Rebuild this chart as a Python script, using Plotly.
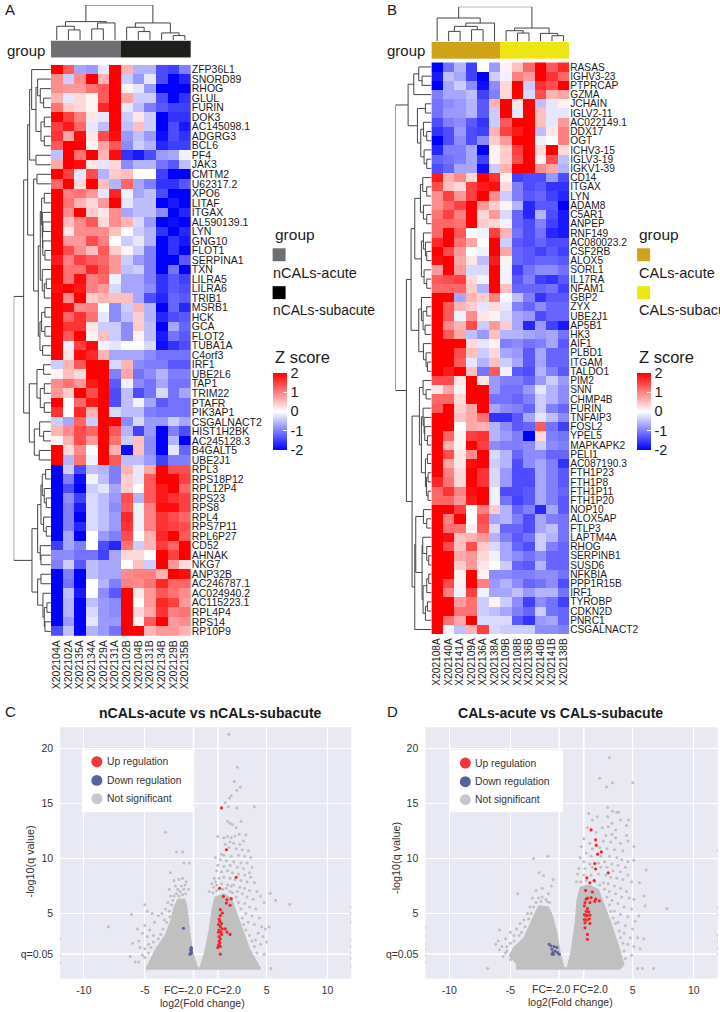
import plotly.graph_objects as go

W, H = 720, 1012
FONT = "Liberation Sans"

samples_a = ["X202104A","X202102A","X202135A","X202134A","X202129A","X202131A","X202102B","X202104B","X202131B","X202134B","X202129B","X202135B"]
samples_b = ["X202108A","X202140A","X202141A","X202109A","X202136A","X202138A","X202109B","X202108B","X202136B","X202140B","X202141B","X202138B"]
groups = [0]*6 + [1]*6

genes_a = ["ZFP36L1","SNORD89","RHOG","GLUL","FURIN","DOK3","AC145098.1","ADGRG3","BCL6","PF4","JAK3","CMTM2","U62317.2","XPO6","LITAF","ITGAX","AL590139.1","LYN","GNG10","FLOT1","SERPINA1","TXN","LILRA5","LILRA6","TRIB1","MSRB1","HCK","GCA","FLOT2","TUBA1A","C4orf3","IRF1","UBE2L6","TAP1","TRIM22","PTAFR","PIK3AP1","CSGALNACT2","HIST1H2BK","AC245128.3","B4GALT5","UBE2J1","RPL3","RPS18P12","RPL12P4","RPS23","RPS8","RPL4","RPS7P11","RPL6P27","CD52","AHNAK","NKG7","ANP32B","AC246787.1","AC024940.2","AC115223.1","RPL4P4","RPS14","RP10P9"]
z_a = [
[2,1.3,-.7,-.8,-.2,2,.6,-.6,-.6,-1.4,-1.5,-1.0],
[.9,-.4,.9,2,.6,2,-.4,-.8,-.2,-1.4,-2,-1.7],
[.9,.8,.8,1.1,1.3,2,.1,-.2,-.8,-2,-2,-2],
[.6,-.2,.3,.1,1.3,2,.7,-.4,-.4,-1.4,-2,-1.6],
[1.1,.4,.3,.1,1.7,2,-.2,-.5,-1.0,-1.3,-1.5,-1.5],
[2,1.5,1,.2,-.2,2,-.4,.2,-.4,-2,-1.6,-1.6],
[1.5,1.8,1.2,-.2,-.5,2,-.5,.5,-.4,-2,-1.4,-1.8],
[1.6,.7,1.9,.2,1.4,1.9,-.8,-.5,-.8,-1.9,-1.4,-1.6],
[1.3,2,2,.1,.7,1.3,-.9,-.4,-.6,-1.7,-1.5,-1.5],
[-.5,2,1.1,2,.6,1.9,-1.6,-1.8,-1.4,-.8,-.7,-.1],
[.7,2,1.9,.2,-.2,.3,-.9,-.6,-.6,-1.1,-1.3,-.5],
[2,1.5,-.2,1.4,-.6,.4,.5,0,0,-1.5,-2,-2],
[1.2,2,.3,2,.5,-.6,1.2,-.7,-1,-1.6,-1.6,-1.3],
[2,1,1.1,.8,-.2,1.7,-.1,-.7,-.5,-1.4,-2,-2],
[2,1.1,.6,.3,.8,2,-.2,-.5,-.5,-2,-1.8,-2],
[2,.9,2,.4,.2,.9,-.7,-.5,-.5,-.9,-2,-1.7],
[2,.5,.9,1.3,.3,.9,.6,-.3,-.8,-2,-1.9,-2],
[2,.2,.9,.9,.9,.5,0,-.4,-.6,-1.6,-2,-1.7],
[2,.8,.8,1.4,1,0,-.4,-.2,-.6,-2,-1.6,-1.8],
[2,1.4,.9,.5,1.3,.4,.1,-.4,-1,-2,-1.6,-2],
[1.8,1,1.5,1.3,1.2,.8,-.4,-.8,-1,-2,-2,-1.3],
[2,1.1,1.1,1.7,1.3,.8,-.5,-.4,-1,-2,-1.1,-2],
[2,1.1,1.9,1,1.2,-.1,-.7,-.7,-1,-1.6,-1.3,-1.5],
[1.9,2,1.8,1,.8,-.3,-.7,-.7,-.9,-1.6,-1.3,-1.4],
[2,.9,2,.4,.6,.5,.5,-.7,-1.4,-1.7,-1.2,-1.3],
[2,1.9,.9,1,0,-.9,-.4,.6,-.6,-2,-1.2,-1.7],
[2,1.2,1.6,1.1,-.2,-.9,-.5,.4,-.6,-1.7,-1.4,-1.3],
[2,1.6,1.6,.2,-.4,-.4,-.9,.4,-.5,-2,-.7,-1.2],
[2,1.3,2,.1,.5,-.4,-.9,.1,-.5,-1.8,-1.1,-1.3],
[2,-.1,1.5,1.9,-.1,-.2,0,0,-.3,-1.9,-1.6,-1.4],
[2,.2,1.9,1.7,.6,-.7,-.7,-.7,-.9,-1.1,-1.1,-1.1],
[-.4,.6,1.3,2,2,-.3,.6,-.9,-1,-1,-1.3,-1.3],
[.1,.5,.3,2,2,-1,.7,-1.1,-.9,-.6,-1,-1],
[.9,1.1,.8,1.8,2,-1.3,-.1,-.9,-1.1,-.7,-1.1,-1.1],
[.8,.4,2,1.4,2,-1.4,-.5,-1.4,-1.1,-.3,-1.1,-.7],
[2,0,1.2,1.8,2,-1.4,-.5,-.1,-.7,-1.3,-1.1,-1.1],
[1.6,0,1.7,.6,2,-.3,-.5,-.5,-1,-1.1,-1.1,-1.1],
[-.4,-.7,1.2,-.4,2,2,-.9,-.3,-.8,-.8,-.4,-.7],
[.6,.9,1.4,1.2,2,1.3,-.6,-1.5,-.8,-2,-1,-1.4],
[.1,.6,1.4,.8,2,1.1,-.4,.5,-.9,-2,-.6,-2],
[2,.3,.9,0,2,.6,-1.9,.5,-.9,-2,-.2,-1.2],
[2,-.6,1.1,-.1,2,1.3,-.5,-.5,-.8,-1.5,-1,-1],
[-2,-.4,-1.4,-.5,-.6,-1,.6,-.2,.7,2,1.4,1.4],
[-2,-1,-1.9,-.1,-.5,-1,.4,-.2,1.3,2,2,1.5],
[-2,-1.4,-2,-.4,-.2,-.7,.4,0,1.3,1.8,2,1.2],
[-2,-.9,-1.5,-.3,-.5,-.8,1.4,-.6,1.3,1.8,1.6,1.5],
[-2,-1,-1.8,-.3,-.5,-.9,1.3,-.1,1,1.9,1.9,1.5],
[-2,-1,-2,-.3,-.5,-.8,1.7,-.1,1,1.6,1.4,1.2],
[-2,-1,-1.7,-.3,-.5,-.8,1.6,-.1,1,1.6,1.5,1.4],
[-2,-.7,-2,0,-.8,-1,1.4,0,.6,1.7,2,1.3],
[-1.5,-.7,-1,0,-1.4,-1.7,1.1,-.4,.6,1.5,1.2,2],
[-.9,-.9,-1.1,-1.1,-1.5,-.7,.3,.3,0,2,1.5,2],
[-1,-.4,-1.3,-.5,-.7,-.7,0,.5,-.4,2,.8,.3],
[-2,-1,-2,-.5,-.7,-.7,.9,1,1,.6,2,1.9],
[-2,-1.1,-2,0,-.6,-1,1,.9,1.1,1.7,1.2,1.2],
[-2,-.5,-1.8,0,-.9,-1.3,2,.2,.8,1.3,1.1,.9],
[-2,-.6,-2,-.5,-.8,-.9,2,0,.8,1.7,1.5,.8],
[-2,-.6,-2,-.3,-.8,-.9,2,.3,.7,1.6,1,1.1],
[-2,-.8,-2,-.2,-.8,-.8,2,.1,1.3,2,.8,.9],
[-1.4,-.5,-2,-.6,-.8,-1.1,2,2,.6,.8,.8,.6],
]

genes_b = ["RASAS","IGHV3-23","PTPRCAP","GZMA","JCHAIN","IGLV2-11","AC022149.1","DDX17","OGT","ICHV3-15","IGLV3-19","IGKV1-39","CD14","ITGAX","LYN","ADAM8","C5AR1","ANPEP","RNF149","AC080023.2","CSF2RB","ALOX5","SORL1","IL17RA","NFAM1","GBP2","ZYX","UBE2J1","AP5B1","HK3","AIF1","PLBD1","ITGAM","TALDO1","PIM2","SNN","CHMP4B","FURIN","TNFAIP3","FOSL2","YPEL5","MAPKAPK2","PELI1","AC087190.3","FTH1P23","FTH1P8","FTH1P11","FTH1P20","NOP10","ALOX5AP","FTLP3","LAPTM4A","RHOG","SERPINB1","SUSD6","NFKBIA","PPP1R15B","IRF1","TYROBP","CDKN2D","PNRC1","CSGALNACT2"]
z_b = [
[-2,-1.1,-.6,-1.5,0,-.8,.1,.5,1.2,2,1.3,1.7],
[-1.8,-.5,-.7,-1.5,-2,-.4,-.1,1,.8,2,1.6,1.2],
[-2,-.7,-.4,-.9,-1.9,-.9,.3,2,-.4,1.6,1.4,2],
[-1,-.7,-.7,-.5,-1.5,-1,.3,2,-.3,1.4,.6,.7],
[-1.1,-.9,-.8,-.6,-1.3,.6,2,.2,2,-.5,-.2,.1],
[-1.1,-.8,-.8,-.6,-1.3,-.4,2,-.2,2,.5,-.2,-.2],
[-1.4,-1,-.9,-1.3,-1.6,-.4,1.3,2,2,.5,-.2,.8],
[-1.6,-1.4,-.8,-1.4,-1.5,.6,1.5,1.8,2,-.5,.2,1],
[-2,-1.4,-.9,-1.4,-.9,.4,.8,2,2,-.1,0,1],
[-1.7,-1,-1,-.7,-2,.1,.4,1.5,2,.3,2,.3],
[-1.2,-1.1,-1,-.7,-1.5,.1,.4,1.4,2,.1,1.4,-.5],
[-1.4,-1.2,-.7,-.7,-1.9,-.4,.6,2,2,.9,.7,-.6],
[1.8,.6,.9,.3,2,1.6,.1,-1.5,-1.4,-1.4,-.8,-1.4],
[1.4,.5,.3,1.5,1.8,1.9,.3,-1,-1.4,-1.3,-1.6,-1.6],
[.9,1.5,.8,1.5,2,.9,-.4,-1,-1.3,-1.2,-1.5,-1.7],
[.9,1.2,1.5,2,.8,.4,.1,-.6,-1.7,-1.3,-1.3,-2],
[1.1,1.5,1,2,.3,.8,-.3,-1.2,-1.7,-.6,-1.4,-1.8],
[1.2,1.2,1.1,2,.4,.3,-.1,-1.2,-1.4,-1,-1.5,-1.8],
[1.2,2,1.3,0,-.1,1.5,.6,-1.1,-1.4,-1.1,-1.7,-1.8],
[1.7,2,1.1,.7,0,2,-.4,-1.3,-1.4,-1.2,-1.4,-1.4],
[2,1.4,.8,0,-.1,2,.7,-1.2,-1.3,-1.5,-1.3,-1.5],
[1.9,2,.7,.2,-.5,1.8,.1,-1.2,-1.3,-1.2,-1.2,-1.3],
[.8,2,.8,-.3,-.3,2,-.1,-1.5,-1.1,-.9,-.9,-1.1],
[1.3,1.4,1.5,.3,-.1,2,-.1,-1.3,-1,-1.5,-1.6,-1.3],
[1.2,1.2,1.2,.4,-.6,2,.5,-1.2,-1.2,-1.2,-1.1,-1.5],
[2,2,-.7,.6,.4,1,0,-.5,-1,-1.6,-1.3,-1.3],
[2,1.3,.6,.4,-.2,.3,-.2,-1,-1.2,-.9,-1.2,-1.2],
[2,1.3,-.1,.9,.2,.1,-.3,-.7,-.8,-1.4,-1.2,-1.2],
[2,.9,.6,1.4,-.4,.8,.4,-.7,-1.7,-.8,-1.5,-1.8],
[2,1.3,.7,-.5,-.8,.5,-.6,-.6,-.7,-.8,-.7,-1.1],
[2,2,2,.3,-.2,.1,-1,-.9,-1.1,-1,-.7,-1.3],
[2,2,1.4,.5,-.4,.3,-.7,-.8,-1.3,-.7,-1.2,-1.2],
[2,2,1.3,-.2,-.6,.5,-.4,-.7,-1.3,-.7,-1.2,-1.2],
[2,1.8,2,.5,-1.1,1.3,-.1,-1.3,-1.4,-.6,-1,-1.3],
[1.4,1.4,.2,2,.2,-.8,-1,-1,-1.2,-.8,-.4,-.8],
[.2,.7,.1,2,2,-.8,-1.1,-1.1,-.8,-.2,-.6,-.9],
[1.2,1.2,.3,2,2,-1.1,-1.1,-1.2,-1,-.4,-.6,-.9],
[1.3,2,.4,.7,2,-.7,-.9,-1,-1.2,-.4,-1,-1.2],
[2,2,.5,.7,1.1,-1.6,-1.6,-1.3,-.7,-.2,-.5,-.9],
[2,2,0,.7,.6,-.6,-.9,-1.3,-1.2,1.3,-1.1,-1.5],
[2,1.2,.1,1.5,1.6,-.6,-.8,-1,-2,.3,-1,-1.1],
[2,.6,.1,2,1.5,-.9,-1,-1,-.9,-.4,-.9,-1],
[2,1.4,.2,.9,2,-.3,-.6,-1.2,-.9,-.9,-1.2,-1.2],
[2,.7,.2,1.9,2,-.4,-.6,-1.4,-.9,-.7,-1,-1.6],
[2,1,.3,2,1.6,-.3,-.8,-1.4,-1.4,-.7,-1,-1.3],
[1.7,1.1,.3,2,1.6,-.3,-.8,-1.4,-1.4,-.7,-1,-1.3],
[1.2,1.6,1,1.9,2,-.1,-1.4,-1.4,-1.3,-.7,-1,-1.2],
[1.2,1.2,.8,1.8,2,-.1,-1.1,-1.5,-1.3,-.7,-1,-1.3],
[2,2,1.5,0,1,.4,-.6,-1.2,-1,-1.7,-.7,-1.3],
[2,1,2,0,1.4,-.7,-.6,-1,-1.4,-.7,-1,-1.1],
[2,1.1,1.1,.1,1.3,-.3,-1.2,-1.2,-1.4,-.7,-.5,-1.1],
[2,1.9,.5,.6,.8,-.6,-1,-1.3,-1.1,-.4,-.6,-1.1],
[2,1.4,.5,1.4,.4,-.3,-.7,-1.2,-1.4,-.4,-1,-1.2],
[2,2,.7,.8,.3,-.1,-.7,-.9,-1.1,-.9,-1.2,-1.2],
[2,2,.4,.8,.2,0,-.4,-1.2,-1.3,-.6,-1.2,-1.2],
[2,2,.1,2,.1,-.9,-.9,-1,-1,-.9,-.9,-1.1],
[2,1.4,.1,2,1,-.8,-.6,-.9,-1.2,-1.1,-.9,-1.4],
[2,1,-.1,1.5,-.1,-.7,-.7,-.5,-.8,-.6,-.6,-1.1],
[2,2,.8,1.1,-.4,.1,-.4,-.9,-1.5,-.9,-1.1,-1.5],
[2,2,1.1,1.1,-.4,-.5,-.7,-1,-1.2,-.4,-1.1,-1.2],
[2,1.1,.7,2,-.3,-.3,-.3,-1.3,-1.6,-.8,-.7,-1.2],
[2,-.1,-.5,.6,1.5,-.3,-.4,-.4,-.4,-.9,-.9,-1],
]

# dendrograms: (height, left, right), leaves are row/column indices
def N(h, a, b):
    return (h, a, b)

tree_col_a = N(105, N(55, N(41, 0, N(30, 1, 2)), N(51, N(33, 3, 4), 5)), N(51, N(38, 6, N(25, 7, 8)), N(21, 9, N(13, 10, 11))))
tree_col_b = N(104, N(70, 0, N(55, N(45, N(30, 1, 2), N(35, 3, 4)), 5)), N(40, N(32, 6, N(25, 7, 8)), N(24, 9, N(17, 10, 11))))

_a_top = N(64, N(58, 0, N(45, N(40, 1, N(32, 2, N(22, 3, 4))), N(30, N(20, 5, 6), N(20, 7, 8)))), N(45, 9, 10))
_a_mid = N(38, N(32, N(28, N(20, 13, 14), N(26, 15, N(25, N(24, 16, 17), N(24.5, 18, N(18, 19, 20))))), N(26, 21, N(20, N(14, 22, 23), 24))),
           N(33, N(28, N(18, 25, 26), N(18, 27, 28)), N(25, 29, 30)))
_a_top2 = N(70, _a_top, N(52, N(42, 11, 12), _a_mid))
_a_low = N(65, N(42, N(22, 31, 32), N(32, N(20, 33, 34), N(20, 35, 36))), N(50, N(34, 37, N(22, 38, 39)), N(35, 40, 41)))
_a_bot = N(57, N(40, N(30, N(26, N(16, 42, 43), N(20, 44, N(14, 45, 46))), N(22, 47, N(14, 48, 49))), N(32, 50, N(30, 51, 52))),
           N(40, N(30, 53, 54), N(24, 55, N(20, N(12, 56, 57), N(18, 58, 59)))))
tree_row_a = N(112, N(82, _a_top2, _a_low), _a_bot)

_b_top = N(70, N(53, N(38, 0, N(28, 1, 2)), 3), N(42, N(18, 4, 5), N(32, N(24, 6, N(14, 7, 8)), N(22, 9, N(14, 10, 11)))))
_b_m1 = N(50, N(33, N(26, 12, N(14, 13, 14)), N(24, 15, N(14, 16, 17))), N(30, N(24, 18, N(18, 19, N(14, 20, 21))), N(22, 22, N(14, 23, 24))))
_b_m2 = N(38, N(30, 25, N(25, N(14, 26, 27), N(19, 28, 29))), N(24, 30, N(16, 31, N(12, 32, 33))))
_b_m = N(61, _b_m1, _b_m2)
_b_n1 = N(36, N(25, 34, N(16, 35, 36)), N(30, N(25, 37, N(22, 38, N(20, 39, N(12, 40, 41)))), N(18, N(12, 42, 43), N(15, N(10, 44, 45), N(10, 46, 47)))))
_b_n2 = N(47, N(24, 48, N(14, 49, 50)), N(28, N(26, 51, N(14, 52, N(8, 53, 54))), N(25, N(14, N(8, 55, 56), 57), N(18, N(12, 58, 59), 60))))
_b_n = N(58, _b_n1, N(50, _b_n2, 61))
tree_row_b = N(108, _b_top, N(75, _b_m, _b_n))

# volcano data (log2 fold change, -log10 q)
c_lobe_left = [(-0.62,0),(-1.07,1.45),(-1.34,3.6),(-1.55,5.6),(-1.7,6.3),(-2.3,6.3),(-2.6,5.6),(-2.85,4.4),(-3.3,3.1),(-4.1,1.8),(-4.55,0.8),(-4.9,0)]
c_lobe_right = [(-0.5,0),(-0.1,1.45),(0.3,3.6),(0.55,5.6),(0.75,6.5),(1.5,6.8),(2.1,6.4),(2.5,5.2),(2.95,3.7),(3.6,1.8),(4.3,0.4),(4.5,0)]
c_base = [-4.9, 4.5]
c_gray = [(1.9,21.3),(2.6,18.3),(2.35,17),(2.85,16.5),(2.55,16.2),(2.1,15.7),(1.95,15.5),(1.6,15.1),(4,14.7),(2.55,14.6),(1.85,14.7),(1.8,13.4),(2.2,13.1),(2.9,13.4),(2.0,13.2),(2.5,12.8),(3.3,12.15),(2.75,12.2),(1.8,12),(2.1,11.9),(2.4,12.05),(1.5,11.9),(1.0,12),(2,11.5),(2.3,11.4),(2.8,11.3),(3.1,11.6),(1.6,11.3),(1.9,11),(2.5,10.9),(3.0,10.8),(3.5,10.7),(1.3,10.4),(0.8,10.1),(1.5,10.3),(2.1,10.2),(2.7,10.3),(3.2,10.2),(3.7,10.1),(1.2,9.9),(1.7,9.8),(2.3,9.7),(2.9,9.6),(3.4,9.6),(1.0,9.4),(1.5,9.3),(2.0,9.4),(2.6,9.2),(3.1,9.1),(3.8,9.2),(3.6,8.7),(0.9,8.9),(1.3,8.8),(1.8,8.9),(2.2,8.7),(2.7,8.6),(3.2,8.5),(3.7,8.3),(0.7,8.2),(1.1,8.2),(1.5,8.3),(2,8.2),(2.4,8.1),(2.9,8),(3.4,7.9),(4,7.8),(0.5,7.7),(0.9,7.6),(2.3,7.6),(2.8,7.4),(3.2,7.3),(3.6,7.1),(4.2,7),(0.3,7),(2.6,7),(3,6.8),(3.4,6.5),(3.9,6.3),(4.5,6.6),(4.8,6),(5.3,6.85),(5.75,6.2),(6.9,5.85),(3.2,5.9),(3.6,5.6),(4.1,5.4),(3.3,5),(3.8,4.8),(4.4,4.6),(3.5,4.2),(4,4),(4.6,3.8),(4.9,3.6),(5.2,3.8),(4.3,3.2),(4.7,2.9),(4.1,2.6),(4.5,2.2),(5,2.4),(5.35,0),(4.8,1.3),(12,5.6),(12,5),(12,4.2),(12,2.6),(12,2),(12,1.4),(12,0.9),(12,0.2),
(0.6,6.9),(0.9,7.1),(1.1,7.3),(1.4,7.2),(1.7,7.3),(2,7),(2.2,6.9),(2.5,6.5),(2.7,6),(2.9,5.4),(3,4.6),(3.1,4),(3.3,3.5),(3.6,3),(3.8,2.5),(4,2),(4.2,1.4),(0.8,7.9),(1.3,7.7),(1.8,7.6),(0.65,7.4),(2.1,7.5),
(-3.3,12.4),(-2.4,10.6),(-1.9,10.6),(-1.8,9.6),(-1.35,9.6),(-2.9,8.7),(-2.6,8),(-2.2,8.1),(-1.9,8.2),(-1.6,7.9),(-2.5,7.5),(-3,7.2),(-1.4,7.2),(-2.9,6.6),(-3.1,6),(-3.3,5.4),(-3.6,5),(-3.9,4.8),(-3.4,4.4),(-4.2,4.2),(-4.8,5.2),(-4.4,5),(-5,5.8),(-6.1,4.9),(-8,3.8),(-5.6,3.6),(-5,3.9),(-4.6,3.5),(-5.2,3.2),(-4.8,2.9),(-4.3,3),(-5.5,2.5),(-6.0,2.3),(-5.4,1.9),(-5,1.8),(-4.7,2.2),(-6.2,1.1),(-5.8,0.6),(-5.5,0.6),(-5.2,1.2),(-12,2.7),(-12,1.2),(-12,0.5),
(-1.7,7.6),(-1.8,7.2),(-2,7.5),(-2.1,7),(-2.3,7.2),(-2.4,6.8),(-2.6,6.6),(-1.9,6.7),(-1.65,6.8),(-2.2,6.6),(-2.7,6.2),(-2.8,5.8),(-3,5.2),(-2.95,4.7),(-3.2,4.2),(-3.5,3.6),(-3.7,3.1),(-3.9,2.7),(-4.3,2.4),(-4.5,1.9),(-4.7,1.4),(-5,1)]
c_up = [(1.3,14.6),(1.7,10.8),(2.5,8.3),(1.15,7.3),(1.45,6.55),(1.75,6.25),(2.1,6.35),(1.7,5.95),(2,5.75),(1.2,5.35),(1.37,5.05),(1.2,4.8),(1.1,4.5),(1.15,4.3),(1.3,4.1),(1.05,4),(1.2,3.8),(1.35,3.6),(1.1,3.5),(1.6,3.6),(1.25,3.3),(1.75,3.3),(1.05,3.3),(1.3,3.1),(2.0,3.1),(1.1,2.9),(1.2,2.7),(1.1,2.5),(1.15,2.3),(1.05,2.1),(1.2,2),(1.0,1.9),(1.2,1.3)]
c_down = [(-1.83,3.65),(-1.2,1.9),(-1.15,1.8),(-1.25,1.7),(-1.2,1.6),(-1.15,1.5),(-1.25,1.4),(-1.2,1.35),(-1.3,1.3)]

d_lobe_left = [(-0.6,0),(-0.93,1.45),(-1.2,3.3),(-1.6,4.9),(-1.9,5.6),(-2.7,5.7),(-3.0,5),(-3.4,4.0),(-3.9,2.8),(-4.75,1.9),(-5.1,1.15),(-4.5,0.4),(-4.5,0)]
d_lobe_right = [(-0.38,0),(-0.05,1.45),(0.3,4.2),(0.45,6.3),(0.7,7.4),(1.4,7.6),(2.2,7.2),(2.6,6),(3.2,4.2),(3.85,2.05),(4.3,0.3),(4,0)]
d_base = [-4.5, 4.0]
d_gray = [(3.1,19.2),(2.3,17.3),(3.35,16.9),(2.85,16.5),(5,16.9),(2.95,14.65),(3.7,14.2),(1.4,14.1),(2.1,13.8),(3.35,14.3),(3.85,14.2),(2.95,13.8),(3.3,13.2),(4,13.5),(4.65,13.5),(1.7,13.5),(4.5,13),(3,12.9),(2.5,12.8),(3.6,12.6),(1.3,12.8),(2,12.4),(4.5,12.1),(3.3,12.2),(2.8,12.1),(3.6,11.9),(1,11.8),(1.5,11.4),(2.6,11.6),(3.2,11.5),(4.0,11.4),(4.6,11.6),(5.1,11.1),(0.8,11.1),(1.7,10.9),(2.3,11),(2.9,10.9),(3.5,10.8),(4.2,10.7),(1.2,10.5),(1.6,10.2),(2.4,10.2),(3.1,10.2),(3.7,10.1),(0.7,10.1),(4.1,9.9),(4.6,9.7),(1,9.7),(1.5,9.5),(2.2,9.6),(2.7,9.7),(3.3,9.5),(3.8,9.4),(4.4,9.2),(0.6,9.1),(1.1,9.1),(1.7,9.2),(2.4,9.2),(2.9,9.2),(3.4,8.9),(4,8.8),(4.6,8.5),(0.5,8.6),(1,8.5),(1.6,8.5),(2.2,8.6),(2.8,8.5),(3.2,8.3),(3.7,8.2),(4.2,8.1),(4.9,7.9),(5.55,7.8),(0.4,7.9),(2.6,7.8),(3,7.7),(3.5,7.5),(4,7.3),(4.5,7),(3.1,7),(3.6,6.8),(4.1,6.5),(4.7,6.4),(5.1,6.3),(5.9,6.6),(3.3,6.2),(3.8,5.9),(4.3,5.6),(4.9,5.4),(6,5.7),(3.5,5.2),(4,4.9),(4.6,4.7),(5.5,4.8),(5.2,4.3),(3.8,4.2),(4.4,3.9),(5,3.6),(4.3,3.2),(4.8,2.8),(5.4,2.8),(5.9,2.7),(4.6,2.2),(5.1,2),(5.6,1.8),(4.9,1.2),(5.4,0),(5.8,0),(6.7,0),(7.8,5.45),(6.1,8.95),(5.1,9.85),(12,10.7),(12,5.6),(12,4.9),(12,3),(12,2.4),(12,1.8),(12,1.3),
(0.75,7.9),(1.2,8),(1.9,7.9),(2.3,7.6),(2.7,7.2),(2.9,6.5),(3.1,5.8),(3.2,5.2),(3.4,4.6),(3.6,4.1),(3.9,3.4),(4,2.8),(4.2,2.3),(4.3,1.6),(4.4,0.9),
(-3.1,10),(-1.95,10.2),(-2.65,8.7),(-2.3,8.45),(-1.65,7.5),(-1.5,8.1),(-4.4,6.8),(-2.9,7.1),(-2.4,7.3),(-1.9,6.8),(-3.2,6.4),(-3.4,5.6),(-3.6,5),(-3.9,4.4),(-4.2,4.1),(-4.5,3.6),(-5.9,3.5),(-5.0,3.3),(-4.7,3),(-5.4,2.7),(-6,2.5),(-6.2,2.2),(-5.7,2),(-5.9,1.7),(-5.3,1.6),(-5.6,1.1),(-6.85,0),(-12,3.7),(-12,3),(-12,2.2),(-12,1.7),(-12,1.2),(-12,0.6),(-5,0.8),
(-2.1,6.3),(-2.4,6.5),(-2.7,6.4),(-2,6.1),(-1.8,6),(-2.9,6),(-2.5,6.1),(-3.1,5.6),(-3.3,5),(-3.5,4.5),(-3.8,3.8),(-4.1,3.3),(-4.3,3),(-4.7,2.5),(-5,2.3),(-5.3,2),(-5.4,1.4)]
d_up = [(1.6,12.6),(1.97,11.7),(2.02,11.2),(2.13,10.4),(2.43,10.6),(1.9,9.55),(1.97,9.05),(3,8.7),(1.25,8.25),(1.85,8),(1.5,7.8),(1.15,7.1),(1.7,6.95),(1.3,6.4),(1.6,6.45),(1.2,6.3),(1.97,6.3),(2.27,6.15),(1.9,6.1),(1.1,6),(1.5,6),(1.05,5.7),(1.3,5.45),(1.2,5.2),(1.4,5.15),(1.05,4.9),(1.15,4.8),(1.25,4.8),(1.5,4.85),(1.05,4.45),(1.25,4.4),(1.45,4.5),(1.1,4.15),(1.5,4.1),(1.1,3.7),(1.3,3.1),(1.3,2.65)]
d_down = [(-1.83,2.2),(-1.67,2.05),(-1.42,2),(-1.2,1.9),(-1.6,1.75),(-1.53,1.45),(-1.34,1.6),(-1.15,1.45),(-1.47,1.3),(-1,1.3),(-1.6,1.3)]

cb_ticks = [-2, -1, 0, 1, 2]
cb_labels = ["-2", "-1", "0", "1", "2"]
COLORSCALE = [[0, "#0000FF"], [0.5, "#FFFFFF"], [1, "#FF0000"]]
GREY, RED, BLUE = "#C0C0C0", "#F0262C", "#55619F"
LAVENDER = "#E9E9F3"
TXT = "#1A1A1A"


def xp(p):
    return p / W


def yp(p):
    return 1 - p / H


fig = go.Figure()
layout_axes = {}
shapes = []
annos = []
_n = [0]


def new_axes(x0, x1, y0, y1, xcfg, ycfg):
    _n[0] += 1
    k = _n[0]
    sfx = "" if k == 1 else str(k)
    base = dict(showgrid=False, zeroline=False, showticklabels=False, ticks="", showline=False, fixedrange=True)
    xa = dict(base, domain=[xp(x0), xp(x1)], anchor="y" + sfx)
    xa.update(xcfg)
    ya = dict(base, domain=[yp(y1), yp(y0)], anchor="x" + sfx)
    ya.update(ycfg)
    layout_axes["xaxis" + sfx] = xa
    layout_axes["yaxis" + sfx] = ya
    return "x" + sfx, "y" + sfx


def tree_segments(t, px, py):
    if not isinstance(t, tuple):
        return float(t), 0.0
    h, a, b = t
    pa, ha = tree_segments(a, px, py)
    pb, hb = tree_segments(b, px, py)
    px += [pa, pa, pb, pb, None]
    py += [ha, h, h, hb, None]
    return (pa + pb) / 2, h


def text(x, y, s, size=15, anchor="left", bold=False, angle=0, color=TXT):
    t = f"<b>{s}</b>" if bold else s
    annos.append(dict(text=t, x=xp(x), y=yp(y), xref="paper", yref="paper", xanchor=anchor, yanchor="middle",
                      showarrow=False, textangle=angle, font=dict(family=FONT, size=size, color=color)))


def heat_panel(samples, genes, z, col_tree, row_tree, hx0, hx1, hy0, hy1, bar_y, top_y, top_max, left_x, left_max,
               colors, cbx, tick_size):
    n, m = len(samples), len(genes)
    xa, ya = new_axes(hx0, hx1, hy0, hy1,
                      dict(type="category", categoryarray=samples, categoryorder="array", showticklabels=True, side="bottom",
                           tickangle=-90, tickfont=dict(family=FONT, size=tick_size, color=TXT), ticks="", ticklen=0,
                           ticklabelstandoff=1, tickmode="array", tickvals=samples, ticktext=samples),
                      dict(type="category", categoryarray=genes, categoryorder="array", autorange="reversed",
                           showticklabels=True, side="right", tickfont=dict(family=FONT, size=tick_size, color=TXT),
                           ticks="", ticklen=0, tickmode="array", tickvals=genes, ticktext=genes))
    fig.add_trace(go.Heatmap(x=samples, y=genes, z=z, zmin=-2, zmax=2, colorscale=COLORSCALE, xaxis=xa, yaxis=ya,
                             colorbar=dict(x=xp(cbx), xanchor="left", xref="paper", y=yp(372), yanchor="top", yref="paper",
                                           thickness=14, thicknessmode="pixels", len=77, lenmode="pixels", ypad=0, xpad=0,
                                           outlinewidth=0, tickmode="array", tickvals=cb_ticks, ticktext=cb_labels, ticks="inside",
                                           ticklen=4, tickcolor="white", tickfont=dict(family=FONT, size=14.5, color=TXT))))
    # group bar
    xb, yb = new_axes(hx0, hx1, bar_y[0], bar_y[1], dict(range=[-0.5, n - 0.5]), dict(range=[0, 1]))
    fig.add_trace(go.Heatmap(z=[groups], x=list(range(n)), y=[0.5], zmin=0, zmax=1, showscale=False,
                             colorscale=[[0, colors[0]], [0.5, colors[0]], [0.5, colors[1]], [1, colors[1]]], xaxis=xb, yaxis=yb))
    # column tree
    xt, yt = new_axes(hx0, hx1, top_y[0], top_y[1], dict(range=[-0.5, n - 0.5]), dict(range=[0, top_max]))
    px, py = [], []
    tree_segments(col_tree, px, py)
    fig.add_trace(go.Scatter(x=px, y=py, mode="lines", line=dict(color="#444444", width=1), xaxis=xt, yaxis=yt, hoverinfo="skip"))
    # row tree
    xr, yr = new_axes(left_x, hx0, hy0, hy1, dict(range=[left_max, 0]), dict(range=[m - 0.5, -0.5]))
    px, py = [], []
    tree_segments(row_tree, px, py)
    fig.add_trace(go.Scatter(x=py, y=px, mode="lines", line=dict(color="#444444", width=1), xaxis=xr, yaxis=yr, hoverinfo="skip"))


def volcano(x0, x1, lobes, base, gray, up, down, legend_box, leg_mx, leg_tx, leg_y, title, tcx, xtc, xty, ytx, yty, fc_pos, fc_y):
    xa, ya = new_axes(x0, x1, 727.3, 979.3,
                      dict(range=[-11.95, 11.95], showgrid=True, gridcolor="white", gridwidth=0.8, showticklabels=True,
                           tickmode="array", tickvals=[-10, -5, 5, 10],
                           ticktext=["-10", "-5", "5", "10"], ticks="outside", ticklen=2, tickangle=0,
                           tickcolor="rgba(0,0,0,0)", tickfont=dict(family=FONT, size=10.5, color="#333333")),
                      dict(range=[-0.9, 21.95], showgrid=True, gridcolor="white", gridwidth=0.8, showticklabels=True,
                           tickmode="array", tickvals=[1.3, 5, 10, 15, 20], ticktext=["q=0.05", "5", "10", "15", "20"],
                           ticks="outside", ticklen=4, tickcolor="rgba(0,0,0,0)",
                           tickfont=dict(family=FONT, size=10.5, color="#333333")))
    shapes.append(dict(type="rect", xref="paper", yref="paper", x0=xp(x0), x1=xp(x1), y0=yp(979.3), y1=yp(727.3),
                       fillcolor=LAVENDER, line=dict(width=0), layer="below"))
    for v in (-1, 1):
        shapes.append(dict(type="line", xref=xa, yref=ya + " domain", x0=v, x1=v, y0=0, y1=1, line=dict(color="white", width=1.6), layer="below"))
    shapes.append(dict(type="line", xref=xa + " domain", yref=ya, x0=0, x1=1, y0=1.3, y1=1.3, line=dict(color="white", width=1.6), layer="below"))
    for lobe in lobes:
        fig.add_trace(go.Scatter(x=[p[0] for p in lobe], y=[p[1] for p in lobe], mode="lines", fill="toself", fillcolor=GREY,
                                 line=dict(color=GREY, width=1), xaxis=xa, yaxis=ya, hoverinfo="skip"))
    fig.add_trace(go.Scatter(x=[p[0] for p in gray], y=[p[1] for p in gray], mode="markers", marker=dict(color=GREY, size=3), xaxis=xa, yaxis=ya, name="Not significant"))
    fig.add_trace(go.Scatter(x=base, y=[0, 0], mode="lines", line=dict(color=GREY, width=2.6), xaxis=xa, yaxis=ya, hoverinfo="skip"))
    fig.add_trace(go.Scatter(x=[p[0] for p in down], y=[p[1] for p in down], mode="markers", marker=dict(color=BLUE, size=3), xaxis=xa, yaxis=ya, name="Down regulation"))
    fig.add_trace(go.Scatter(x=[p[0] for p in up], y=[p[1] for p in up], mode="markers", marker=dict(color=RED, size=3.2), xaxis=xa, yaxis=ya, name="Up regulation"))
    # legend box
    bx0, bx1, by0, by1 = legend_box
    shapes.append(dict(type="rect", xref="paper", yref="paper", x0=xp(bx0), x1=xp(bx1), y0=yp(by1), y1=yp(by0), fillcolor="white", line=dict(width=0), layer="above"))
    for yy, c, s in zip(leg_y, ["#F5333A", "#56629E", "#C8C8C8"], ["Up regulation", "Down regulation", "Not significant"]):
        shapes.append(dict(type="circle", xref="paper", yref="paper", x0=xp(leg_mx - 5.5), x1=xp(leg_mx + 5.5), y0=yp(yy + 5.5), y1=yp(yy - 5.5), fillcolor=c, line=dict(width=0), layer="above"))
        text(leg_tx, yy, s, size=10.3, color="#333333")
    text(tcx, 713, title, size=14.1, anchor="center", bold=True)
    text(fc_pos[0], fc_y, "FC=-2.0", size=10.5, anchor="center", color="#333333")
    text(fc_pos[1], fc_y, "FC=2.0", size=10.5, anchor="center", color="#333333")
    text(xtc, xty, "log2(Fold change)", size=10.5, anchor="center", color="#333333")
    text(ytx, yty, "-log10(q value)", size=10.8, anchor="center", angle=-90, color="#333333")


heat_panel(samples_a, genes_a, z_a, tree_col_a, tree_row_a, 50, 190, 63, 636, (38.7, 56), (3, 38), 105, 12.7, 112,
           ("#6F6F73", "#1E1E1A"), 272, 10.5)
heat_panel(samples_b, genes_b, z_b, tree_col_b, tree_row_b, 431, 569, 60.5, 634, (40, 57), (4.7, 39.5), 104, 395, 108,
           ("#CFA317", "#EDE613"), 637, 10.2)

volcano(59.3, 350.7, [c_lobe_left, c_lobe_right], c_base, c_gray, c_up, c_down, (81, 193, 750, 812.7), 96, 103.7,
        (762, 780.7, 799), "nCALs-acute vs nCALs-subacute", 209.5, 202, 1003.5, 29, 862, (182.3, 223.3), 991)
volcano(425, 717.7, [d_lobe_left, d_lobe_right], d_base, d_gray, d_up, d_down, (449.3, 562.7, 750, 812.7), 465, 472.7,
        (763.3, 782, 800), "CALs-acute vs CALs-subacute", 560, 570, 1002.5, 396, 858, (550.8, 590.8), 990)

# panel letters
text(2, 8, "A", size=15)
text(385, 8, "B", size=15)
text(2, 712, "C", size=15)
text(385, 712, "D", size=15)
text(4, 49, "group", size=15)
text(385, 49, "group", size=15)

# side legends
for lx, names, cols in ((272, ["nCALs-acute", "nCALs-subacute"], ["#6F6F73", "#000000"]),
                        (637, ["CALs-acute", "CALs-subacute"], ["#CFA317", "#EDE613"])):
    text(lx, 233, "group", size=15.5)
    shapes.append(dict(type="rect", xref="paper", yref="paper", x0=xp(lx), x1=xp(lx + 13), y0=yp(260), y1=yp(247), fillcolor=cols[0], line=dict(width=0)))
    shapes.append(dict(type="rect", xref="paper", yref="paper", x0=xp(lx), x1=xp(lx + 13), y0=yp(298), y1=yp(285), fillcolor=cols[1], line=dict(width=0)))
    text(lx - 2 if lx == 272 else lx, 272, names[0], size=14.5)
    text(lx - 2 if lx == 272 else lx, 309, names[1], size=13.8 if lx == 272 else 14.5)
    text(lx, 356, "Z score", size=16.5)

fig.update_layout(width=W, height=H, margin=dict(l=0, r=0, t=0, b=0), paper_bgcolor="white", plot_bgcolor="rgba(0,0,0,0)",
                  showlegend=False, shapes=shapes, annotations=annos, **layout_axes)
fig.write_html("out.html", config=dict(displayModeBar=False), post_script="document.body.style.margin='0';document.body.style.overflow='hidden';")
